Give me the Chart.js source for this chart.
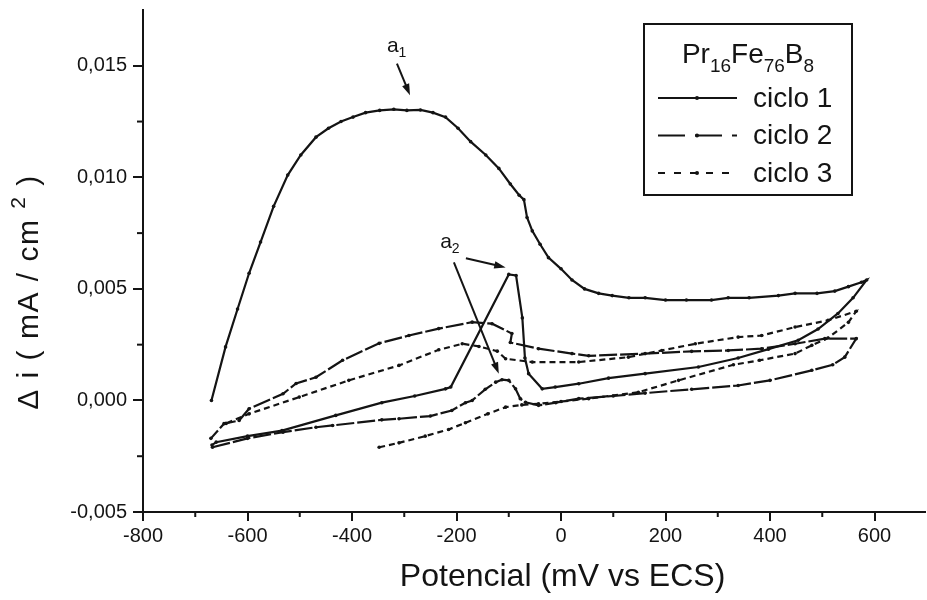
<!DOCTYPE html>
<html><head><meta charset="utf-8">
<script src="https://cdn.jsdelivr.net/npm/chart.js@4/dist/chart.umd.min.js"></script>
<style>html,body{margin:0;padding:0;background:#fff;overflow:hidden}#wrap{width:927px;height:600px;position:relative}</style>
</head><body><div id="wrap"><canvas id="c" width="927" height="600"></canvas></div>
<script>
// ---- data ----
const seriesLabels = ['ciclo 1', 'ciclo 2', 'ciclo 3'];

const ciclo1Potencial = [-669,-642,-619,-597,-575,-550,-523,-498,-469,-445,-421,-398,-374,-347,-320,-295,-269,-245,-221,-197,-173,-144,-119,-97,-80,-71,-65,-55,-40,-24,0,21,45,72,98,130,161,200,240,288,320,360,416,448,490,524,550,575,585,
  559,530,492,454,397,339,263,161,91,34,-11,-36,-62,-69,-74,-86,-100,-211,-221,-280,-343,-431,-534,-600,-660,-668];
const ciclo1Corriente = [0.0000,0.0024,0.0041,0.0057,0.0071,0.0087,0.0101,0.0110,0.0118,0.0122,0.0125,0.0127,0.0129,0.0130,0.01305,0.0130,0.01302,0.0129,0.0127,0.0122,0.0116,0.0110,0.0104,0.0097,0.0092,0.0090,0.0082,0.0076,0.0070,0.0064,0.0059,0.0054,0.0050,0.0048,0.0047,0.0046,0.0046,0.0045,0.0045,0.0045,0.0046,0.0046,0.0047,0.0048,0.0048,0.0049,0.0051,0.0053,0.0054,
  0.0046,0.0039,0.0032,0.0027,0.0023,0.0019,0.0015,0.0012,0.0010,0.00075,0.0006,0.00052,0.0012,0.0019,0.0037,0.0056,0.00565,0.0006,0.00052,0.0002,-0.0001,-0.00067,-0.00135,-0.0016,-0.00187,-0.0020];

const ciclo2Potencial = [-667,-600,-532,-469,-437,-343,-310,-250,-209,-183,-170,-145,-125,-113,-100,-87,-78,-68,-43,-10,34,100,161,250,339,400,480,520,543,565,
  505,448,384,320,250,161,53,21,-43,-97,-94,-132,-170,-234,-291,-348,-418,-469,-507,-532,-597,-616,-645,-670];
const ciclo2Corriente = [-0.0021,-0.0017,-0.00142,-0.0012,-0.00112,-0.00087,-0.00082,-0.0007,-0.00045,-0.0001,0.0000,0.0005,0.00082,0.00093,0.0009,0.00052,0.00008,-0.00008,-0.00022,-0.0001,0.00008,0.0002,0.00033,0.0005,0.00067,0.0009,0.00135,0.0016,0.00194,0.00277,
  0.00277,0.00254,0.00232,0.00224,0.0022,0.0021,0.0020,0.0021,0.00232,0.0026,0.0030,0.00344,0.00351,0.00322,0.00291,0.00256,0.0018,0.00104,0.00076,0.0003,-0.00037,-0.0009,-0.00104,-0.0017];

const ciclo3Potencial = [-348,-310,-260,-215,-183,-140,-106,-75,-43,0,53,148,225,330,380,448,480,511,550,565,
  511,448,384,339,257,193,129,34,-55,-106,-122,-157,-189,-234,-310,-406,-501,-597,-641];
const ciclo3Corriente = [-0.0021,-0.0019,-0.0016,-0.0013,-0.0010,-0.0006,-0.0003,-0.0002,-0.00015,-0.00005,0.00008,0.00037,0.0009,0.0016,0.0018,0.0021,0.00247,0.0028,0.0035,0.0040,
  0.00359,0.00329,0.00291,0.00284,0.00254,0.00224,0.00194,0.00172,0.00172,0.00187,0.00221,0.00242,0.00254,0.00227,0.00157,0.0009,0.00015,-0.0006,-0.00103];

const xTickValues = [-800,-600,-400,-200,0,200,400,600];
const xTickLabels = ['-800','-600','-400','-200','0','200','400','600'];
const xMinorTicks = [-700,-500,-300,-100,100,300,500];
const yTickValues = [-0.005,0,0.005,0.010,0.015];
const yTickLabels = ['-0,005','0,000','0,005','0,010','0,015'];
const yMinorTicks = [-0.0025,0.0025,0.0075,0.0125];

const xTitle = 'Potencial (mV vs ECS)';
const legendTitle = [['Pr',0],['16',1],['Fe',0],['76',1],['B',0],['8',1]];
// peak annotations: label position and arrows (data units)
const annLabels = [{sub:'1', x:-316, y:0.0158},{sub:'2', x:-214, y:0.0070}];
const annArrows = [[-314,0.0151,-289,0.01368],[-182,0.00637,-106,0.00596],[-205,0.00619,-119,0.0012]];

// ---- styles ----
const INK = '#141414';
const FONT = '"Liberation Sans", Arial, Helvetica, sans-serif';
const plotDash = [[], [18,3], [6,4]];
const legendDash = [[], [27,10], [7,9]];

const zip = (xs, ys) => xs.map((v,i) => ({x:v, y:ys[i]}));
const seriesData = [zip(ciclo1Potencial,ciclo1Corriente), zip(ciclo2Potencial,ciclo2Corriente), zip(ciclo3Potencial,ciclo3Corriente)];

function arrow(ctx, x1,y1,x2,y2){
  const a = Math.atan2(y2-y1,x2-x1), h = 12, w = 0.32;
  ctx.beginPath(); ctx.moveTo(x1,y1); ctx.lineTo(x2-Math.cos(a)*h*0.7,y2-Math.sin(a)*h*0.7); ctx.stroke();
  ctx.beginPath(); ctx.moveTo(x2,y2);
  ctx.lineTo(x2-h*Math.cos(a-w), y2-h*Math.sin(a-w));
  ctx.lineTo(x2-h*Math.cos(a+w), y2-h*Math.sin(a+w));
  ctx.closePath(); ctx.fill();
}

const overlay = {
  id: 'overlay',
  afterDraw(chart){
    const ctx = chart.ctx, xs = chart.scales.x, ys = chart.scales.y, ca = chart.chartArea;
    ctx.save();
    ctx.strokeStyle = INK; ctx.fillStyle = INK; ctx.lineWidth = 2;
    // minor ticks
    xMinorTicks.forEach(v => { const p = xs.getPixelForValue(v); ctx.beginPath(); ctx.moveTo(p, ca.bottom); ctx.lineTo(p, ca.bottom+5); ctx.stroke(); });
    yMinorTicks.forEach(v => { const p = ys.getPixelForValue(v); ctx.beginPath(); ctx.moveTo(ca.left, p); ctx.lineTo(ca.left-6, p); ctx.stroke(); });
    // x title
    ctx.font = '32px ' + FONT; ctx.textAlign = 'center'; ctx.textBaseline = 'middle';
    ctx.fillText(xTitle, xs.getPixelForValue(3), 577);
    // y title (rotated) with superscript
    ctx.save();
    ctx.translate(30, 292); ctx.rotate(-Math.PI/2);
    const big = '30px ' + FONT, small = '21px ' + FONT;
    const parts = [['\u0394 i ( mA / cm ', big, 0], ['2', small, -11], [' )', big, 0]];
    ctx.letterSpacing = '1.5px';
    let tot = 0; parts.forEach(p => { ctx.font = p[1]; tot += ctx.measureText(p[0]).width; });
    let cx = -tot/2; ctx.textAlign = 'left';
    parts.forEach(p => { ctx.font = p[1]; ctx.fillText(p[0], cx, p[2]); cx += ctx.measureText(p[0]).width; });
    ctx.letterSpacing = '0px';
    ctx.restore();
    // annotations
    ctx.lineWidth = 2;
    annArrows.forEach(a => arrow(ctx, xs.getPixelForValue(a[0]), ys.getPixelForValue(a[1]), xs.getPixelForValue(a[2]), ys.getPixelForValue(a[3])));
    annLabels.forEach(l => {
      const px = xs.getPixelForValue(l.x), py = ys.getPixelForValue(l.y);
      ctx.textAlign = 'left'; ctx.textBaseline = 'alphabetic';
      ctx.font = '21px ' + FONT; ctx.fillText('a', px-9, py+4);
      const w = ctx.measureText('a').width;
      ctx.font = '14px ' + FONT; ctx.fillText(l.sub, px-9+w, py+9);
    });
    // legend box
    const bx = ca.left + 501, by = ca.top + 14, bw = 208, bh = 171;
    ctx.lineWidth = 2; ctx.strokeRect(bx, by, bw, bh);
    // legend title
    const mainF = '28px ' + FONT, subF = '19px ' + FONT;
    let tw = 0; legendTitle.forEach(t => { ctx.font = t[1] ? subF : mainF; tw += ctx.measureText(t[0]).width; });
    let tx = bx + bw/2 - tw/2; ctx.textAlign = 'left'; ctx.textBaseline = 'alphabetic';
    legendTitle.forEach(t => { ctx.font = t[1] ? subF : mainF; ctx.fillText(t[0], tx, by + 39 + (t[1] ? 9 : 0)); tx += ctx.measureText(t[0]).width; });
    // legend entries
    seriesLabels.forEach((lab, i) => {
      const ly = by + 74 + i*37.5;
      ctx.save(); ctx.setLineDash(legendDash[i]); ctx.lineWidth = 2;
      ctx.beginPath(); ctx.moveTo(bx+14, ly); ctx.lineTo(bx+93, ly); ctx.stroke(); ctx.restore();
      ctx.beginPath(); ctx.arc(bx+53, ly, 2, 0, Math.PI*2); ctx.fill();
      ctx.font = '28px ' + FONT; ctx.textBaseline = 'middle'; ctx.fillText(lab, bx+109, ly+1);
    });
    ctx.restore();
  }
};

new Chart(document.getElementById('c'), {
  type: 'scatter',
  data: {
    datasets: seriesData.map((d, i) => ({
      label: seriesLabels[i], data: d, showLine: true, tension: 0,
      borderColor: INK, borderWidth: 2.2, borderDash: plotDash[i],
      pointRadius: 1.8, pointBackgroundColor: INK, pointBorderWidth: 0, pointHoverRadius: 0
    }))
  },
  options: {
    responsive: false, animation: false, devicePixelRatio: 1,
    layout: { padding: { top: 10, right: 0, left: 0, bottom: 0 } },
    plugins: { legend: { display: false }, tooltip: { enabled: false } },
    scales: {
      x: {
        type: 'linear', min: -800, max: 697,
        afterBuildTicks: s => { s.ticks = xTickValues.map(v => ({value: v})); },
        afterFit: s => { s.height = 88; s.paddingLeft = 0; s.paddingRight = 0; },
        ticks: { callback: (v) => xTickLabels[xTickValues.indexOf(v)] ?? '', color: INK, font: { family: FONT, size: 20 }, padding: 3, maxRotation: 0, autoSkip: false },
        grid: { drawOnChartArea: false, drawTicks: true, tickLength: 9, color: INK, lineWidth: 2 },
        border: { display: true, color: INK, width: 2 }
      },
      y: {
        type: 'linear', min: -0.005, max: 0.0175,
        afterBuildTicks: s => { s.ticks = yTickValues.map(v => ({value: v})); },
        afterFit: s => { s.width = 143; s.paddingTop = 0; s.paddingBottom = 0; },
        ticks: { callback: (v) => { const i = yTickValues.findIndex(t => Math.abs(t - v) < 1e-9); return i >= 0 ? yTickLabels[i] : ''; }, color: INK, font: { family: FONT, size: 20 }, padding: 6, autoSkip: false },
        grid: { drawOnChartArea: false, drawTicks: true, tickLength: 10, color: INK, lineWidth: 2 },
        border: { display: true, color: INK, width: 2 }
      }
    }
  },
  plugins: [overlay]
});
</script></body></html>
